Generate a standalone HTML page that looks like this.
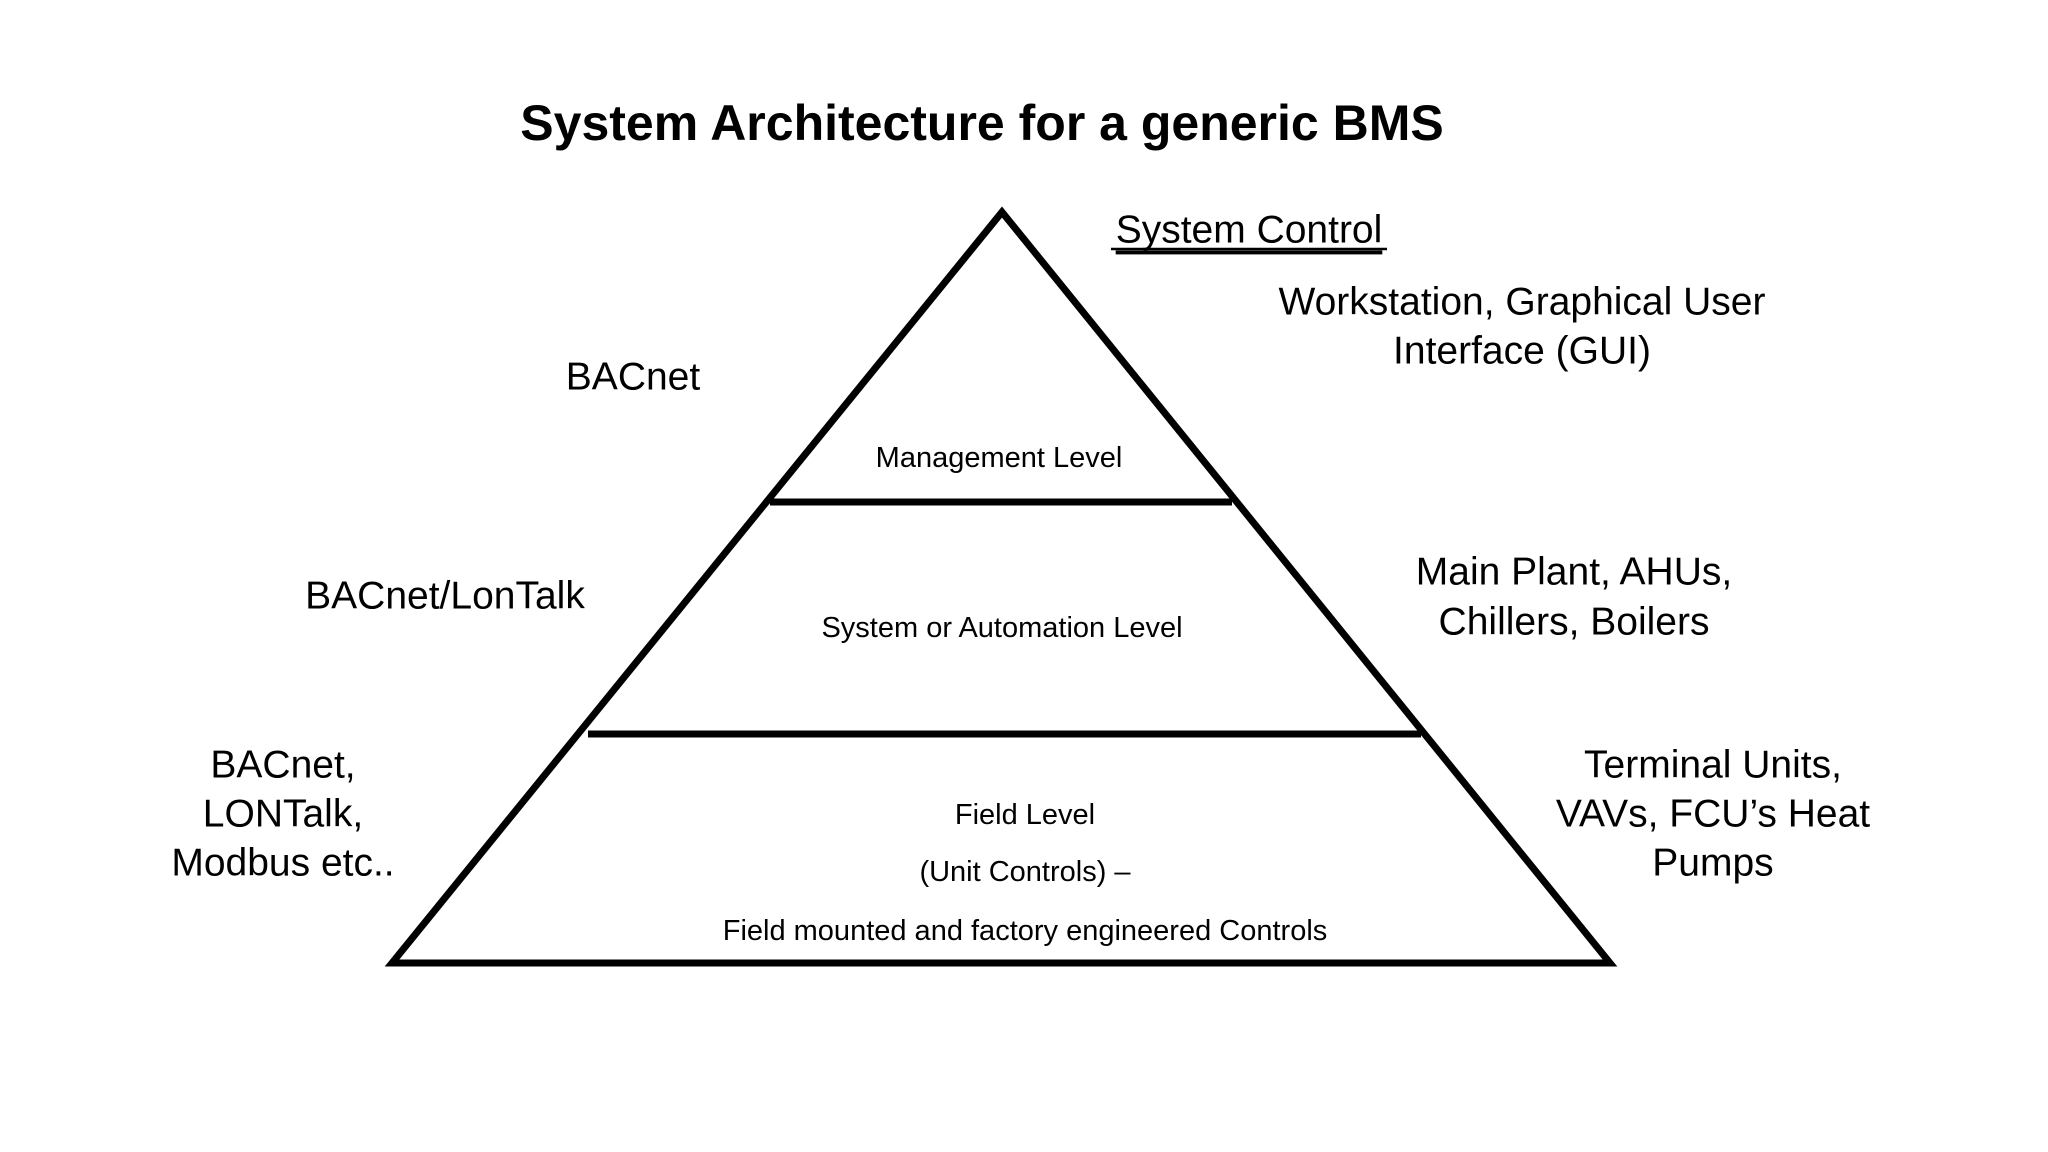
<!DOCTYPE html>
<html><head><meta charset="utf-8"><style>
html,body{margin:0;padding:0;background:#fff;}
svg{display:block;}
text{font-family:"Liberation Sans",Arial,sans-serif;fill:#000;}
</style></head><body>
<svg width="2048" height="1152" viewBox="0 0 2048 1152" xmlns="http://www.w3.org/2000/svg">
<rect width="2048" height="1152" fill="#fff"/>
<text x="982" y="123" font-size="50" font-weight="bold" text-anchor="middle" dominant-baseline="central">System Architecture for a generic BMS</text>
<polygon points="1002,212 392,963 1610,963" fill="none" stroke="#000" stroke-width="7" stroke-linejoin="miter"/>
<line x1="770" y1="502" x2="1232" y2="502" stroke="#000" stroke-width="7"/>
<line x1="588" y1="734" x2="1421" y2="734" stroke="#000" stroke-width="7"/>
<g font-size="39" text-anchor="middle" dominant-baseline="central">
<text x="1249" y="230" text-decoration="underline">System Control</text>
<line x1="1111" y1="249" x2="1387" y2="249" stroke="#000" stroke-width="2.5"/>
<text x="1522" y="302">Workstation, Graphical User</text>
<text x="1522" y="351">Interface (GUI)</text>
<text x="633" y="377">BACnet</text>
<text x="445" y="596">BACnet/LonTalk</text>
<text x="1574" y="572">Main Plant, AHUs,</text>
<text x="1574" y="622">Chillers, Boilers</text>
<text x="283" y="765">BACnet,</text>
<text x="283" y="814">LONTalk,</text>
<text x="283" y="863">Modbus etc..</text>
<text x="1713" y="765">Terminal Units,</text>
<text x="1713" y="814">VAVs, FCU’s Heat</text>
<text x="1713" y="863">Pumps</text>
</g>
<g font-size="29" text-anchor="middle" dominant-baseline="central">
<text x="999" y="458">Management Level</text>
<text x="1002" y="628">System or Automation Level</text>
<text x="1025" y="815">Field Level</text>
<text x="1025" y="872">(Unit Controls) –</text>
<text x="1025" y="931">Field mounted and factory engineered Controls</text>
</g>
</svg>
</body></html>
